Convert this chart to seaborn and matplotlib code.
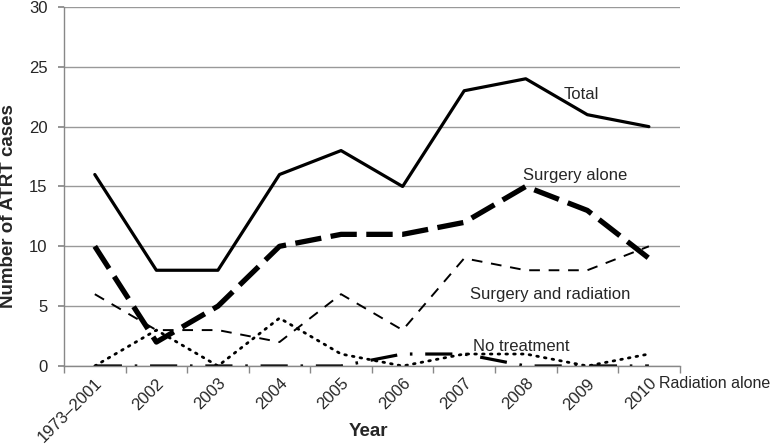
import numpy as np
import pandas as pd
import matplotlib
matplotlib.use("Agg")
import matplotlib.pyplot as plt
import seaborn as sns
from matplotlib.ticker import FixedLocator

# Dane
years = ['1973–2001', '2002', '2003', '2004', '2005', '2006', '2007', '2008', '2009', '2010']
total = [16, 8, 8, 16, 18, 15, 23, 24, 21, 20]
surgery_alone = [10, 2, 5, 10, 11, 11, 12, 15, 13, 9]
surgery_radiation = [6, 3, 3, 2, 6, 3, 9, 8, 8, 10]
no_treatment = [0, 3, 0, 4, 1, 0, 1, 1, 0, 1]
radiation_alone = [0, 0, 0, 0, 0, 1, 1, 0, 0, 0]

sns.set_theme(style="white")
plt.rcParams['font.family'] = ['Liberation Sans', 'DejaVu Sans']

fig = plt.figure(figsize=(7.75, 4.44), dpi=100)
ax = fig.add_axes([0.0826, 0.1757, 0.7944, 0.8086])

x = np.arange(len(years))
series = [
    (total, dict(linestyle='-', linewidth=2.3)),
    (surgery_alone, dict(linestyle=(0, (5, 1.8)), linewidth=3.8)),
    (surgery_radiation, dict(linestyle=(0, (5.5, 4.5)), linewidth=1.4)),
    (no_treatment, dict(linestyle=(0, (0.6, 2.2)), linewidth=2.0, dash_capstyle='round')),
    (radiation_alone, dict(linestyle=(0, (8.5, 4, 0.8, 4)), linewidth=2.3)),
]
for vals, kw in series:
    sns.lineplot(x=x, y=vals, ax=ax, color='black', **kw)

ax.set_xlim(-0.5, len(years) - 0.5)
ax.set_ylim(0, 30)
ax.set_yticks(range(0, 31, 5))
ax.set_xticks(x)
ax.set_xticklabels(years, rotation=45, ha='right', rotation_mode='anchor', fontsize=12)
ax.tick_params(axis='y', labelsize=12, length=4, color='#888888', left=True, pad=8)
ax.tick_params(axis='x', which='major', length=0, pad=7)
ax.xaxis.set_minor_locator(FixedLocator(np.arange(-0.5, len(years), 1)))
ax.tick_params(axis='x', which='minor', length=5, color='#888888', bottom=True)
ax.yaxis.grid(True, color='#999999', linewidth=1)
ax.xaxis.grid(False)
ax.set_axisbelow(True)
for s in ['top', 'right']:
    ax.spines[s].set_visible(False)
for s in ['left', 'bottom']:
    ax.spines[s].set_color('#888888')
    ax.spines[s].set_linewidth(1)

ax.set_xlabel('Year', fontsize=13.5, fontweight='bold')
ax.xaxis.set_label_coords(0.495, -0.183, transform=ax.transAxes)
ax.xaxis.label.set_va('center')
ax.set_ylabel('Number of ATRT cases', fontsize=13.5, fontweight='bold')
ax.yaxis.set_label_coords(-0.077, 0.445, transform=ax.transAxes)

ax.text(7.9, 22.7, 'Total', fontsize=12, ha='center', va='center')
ax.text(7.8, 15.95, 'Surgery alone', fontsize=12, ha='center', va='center')
ax.text(7.4, 6.0, 'Surgery and radiation', fontsize=12, ha='center', va='center')
ax.text(6.93, 1.67, 'No treatment', fontsize=12, ha='center', va='center')
ax.text(9.17, -1.5, 'Radiation alone', fontsize=11.5, ha='left', va='center', clip_on=False)

fig.savefig('out.png', dpi=100)
